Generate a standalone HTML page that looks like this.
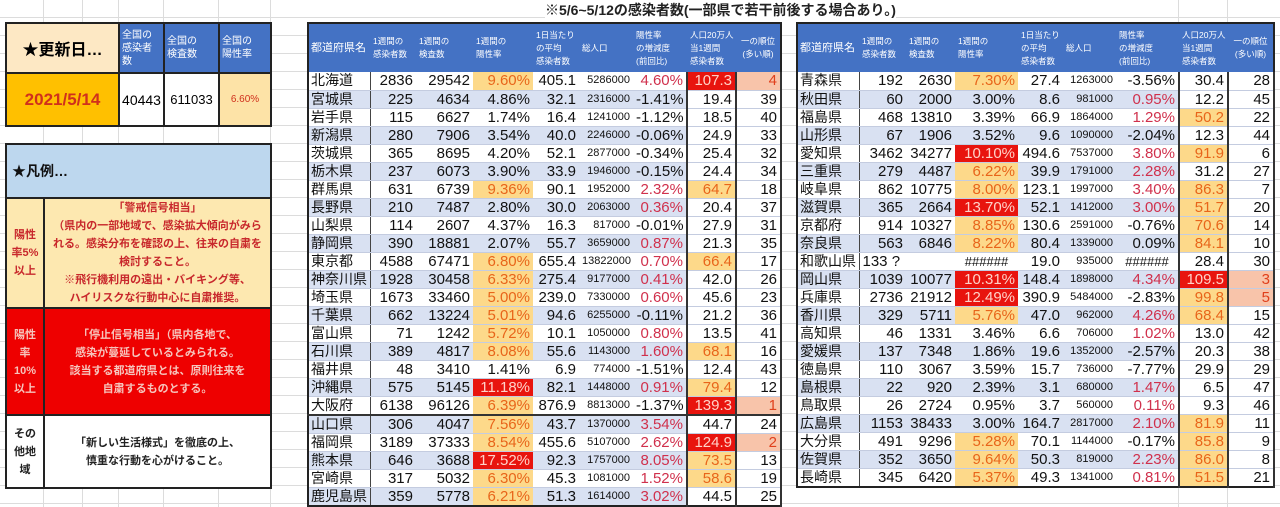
<!DOCTYPE html>
<html><head><meta charset="utf-8">
<style>
*{box-sizing:border-box;margin:0;padding:0}
body{width:1280px;height:507px;overflow:hidden;position:relative;background:#fff;font-family:"Liberation Sans","Noto Sans CJK JP",sans-serif;
background-image:repeating-linear-gradient(to bottom,transparent 0,transparent 17px,#dcdcdc 17px,#dcdcdc 18px);}
.vg{position:absolute;top:0;width:1px;height:507px;background:#dcdcdc}
.title{position:absolute;left:545px;top:0px;font-size:14px;font-weight:bold;color:#222;white-space:nowrap;background:#fff}
table{border-collapse:collapse;table-layout:fixed;position:absolute;background:#fff}
.t{top:22px;border:2px solid #222}
.t th{background:#4472c4;color:#fff;font-size:8.5px;font-weight:normal;text-align:left;height:49px;padding:0 3px;line-height:13px;vertical-align:middle;white-space:nowrap;overflow:hidden}
.t th.n{font-size:11px;padding:0 2px}
.t th.c{text-align:center}
.t td{height:18px;padding:0 3px;font-size:15px;text-align:right;border-bottom:1px solid #c4cce0;white-space:nowrap;overflow:hidden;color:#111;line-height:17px}
.t td.n{text-align:left;border-right:1px solid #444;font-size:14px;padding:0 2px}
.t td.pp{font-size:11px}
.t tr.b td{background:#d9e1f2}
.t tr td.w{background:#fff;border-left:2px solid #333}
.t tr td.w2{background:#fff;border-left:2px solid #333;border-right:2px solid #333}
.t tr td.y{background:#fdd98a;color:#e8651a}
.t tr td.r{background:#e8140e;color:#ffd2c8}
.t td.p{color:#d0304c}
.t tr td.hy{background:#fdd98a;color:#e8651a}
.t tr td.hr{background:#e8140e;color:#ffd2c8}
.t tr td.rk{background:#f8c4aa;color:#e0401c}
.t tr.sep td{border-top:2px solid #333}
.lp td{border:2px solid #222;text-align:center;vertical-align:middle}
.lg td{border:2px solid #222;text-align:center;vertical-align:middle;font-size:11px;font-weight:bold;line-height:18px}
</style></head><body>
<div class="vg" style="left:43px"></div><div class="vg" style="left:82px"></div><div class="vg" style="left:118px"></div><div class="vg" style="left:163px"></div><div class="vg" style="left:218px"></div><div class="vg" style="left:270px"></div><div class="vg" style="left:1178px"></div><div class="vg" style="left:1227px"></div>

<div class="title">※5/6~5/12の感染者数(一部県で若干前後する場合あり。)</div>

<table class="lp" style="left:5px;top:22px;width:265px">
<colgroup><col style="width:113px"><col style="width:45px"><col style="width:55px"><col style="width:52px"></colgroup>
<tr style="height:50px"><td style="background:#fde8c4;font-size:16px;font-weight:bold">★更新日…</td>
<td style="background:#4472c4;color:#fff;font-size:10px;text-align:left;line-height:13px;padding-left:2px">全国の<br>感染者<br>数</td>
<td style="background:#4472c4;color:#fff;font-size:10px;text-align:left;line-height:13px;padding-left:2px">全国の<br>検査数</td>
<td style="background:#4472c4;color:#fff;font-size:10px;text-align:left;line-height:13px;padding-left:2px">全国の<br>陽性率</td></tr>
<tr style="height:53px"><td style="background:#ffc000;color:#d0301c;font-size:17px;font-weight:bold">2021/5/14</td>
<td style="font-size:14px">40443</td><td style="font-size:13px">611033</td>
<td style="background:#fde3a7;color:#d0301c;font-size:10px">6.60%</td></tr>
</table>

<table class="lg" style="left:5px;top:143px;width:265px">
<colgroup><col style="width:38px"><col style="width:227px"></colgroup>
<tr style="height:54px"><td colspan="2" style="background:#bdd7ee;text-align:left;font-size:14px;padding-left:5px;color:#111">★凡例…</td></tr>
<tr style="height:108px;background:#fde8b0;color:#c8282c"><td style="font-size:11px">陽性<br>率5%<br>以上</td>
<td>「警戒信号相当」<br>（県内の一部地域で、感染拡大傾向がみら<br>れる。感染分布を確認の上、往来の自粛を<br>検討すること。<br>※飛行機利用の遠出・バイキング等、<br>ハイリスクな行動中心に自粛推奨。</td></tr>
<tr style="height:107px;background:#ee0000;color:#f6c4bc"><td>陽性<br>率<br>10%<br>以上</td>
<td>「停止信号相当」（県内各地で、<br>感染が蔓延しているとみられる。<br>該当する都道府県とは、原則往来を<br>自粛するものとする。</td></tr>
<tr style="height:73px;background:#fff;color:#222"><td>その<br>他地<br>域</td>
<td>「新しい生活様式」を徹底の上、<br>慎重な行動を心がけること。</td></tr>
</table>

<table class="t" style="left:307px;width:473px">
<colgroup><col style="width:62px"><col style="width:46px"><col style="width:57px"><col style="width:60px"><col style="width:46px"><col style="width:54px"><col style="width:54px"><col style="width:49px"><col style="width:45px"></colgroup>
<tr><th class="n">都道府県名</th><th>1週間の<br>感染者数</th><th>1週間の<br>検査数</th><th>1週間の<br>陽性率</th><th>1日当たり<br>の平均<br>感染者数</th><th>総人口</th><th>陽性率<br>の増減度<br>(前回比)</th><th>人口20万人<br>当1週間<br>感染者数</th><th class="c">一の順位<br>(多い順)</th></tr>
<tr><td class="n">北海道</td><td>2836</td><td>29542</td><td class="y">9.60%</td><td>405.1</td><td class="pp">5286000</td><td class="p">4.60%</td><td class="w hr">107.3</td><td class="w2 rk">4</td></tr>
<tr class="b"><td class="n">宮城県</td><td>225</td><td>4634</td><td>4.86%</td><td>32.1</td><td class="pp">2316000</td><td>-1.41%</td><td class="w">19.4</td><td class="w2">39</td></tr>
<tr><td class="n">岩手県</td><td>115</td><td>6627</td><td>1.74%</td><td>16.4</td><td class="pp">1241000</td><td>-1.12%</td><td class="w">18.5</td><td class="w2">40</td></tr>
<tr class="b"><td class="n">新潟県</td><td>280</td><td>7906</td><td>3.54%</td><td>40.0</td><td class="pp">2246000</td><td>-0.06%</td><td class="w">24.9</td><td class="w2">33</td></tr>
<tr><td class="n">茨城県</td><td>365</td><td>8695</td><td>4.20%</td><td>52.1</td><td class="pp">2877000</td><td>-0.34%</td><td class="w">25.4</td><td class="w2">32</td></tr>
<tr class="b"><td class="n">栃木県</td><td>237</td><td>6073</td><td>3.90%</td><td>33.9</td><td class="pp">1946000</td><td>-0.15%</td><td class="w">24.4</td><td class="w2">34</td></tr>
<tr><td class="n">群馬県</td><td>631</td><td>6739</td><td class="y">9.36%</td><td>90.1</td><td class="pp">1952000</td><td class="p">2.32%</td><td class="w hy">64.7</td><td class="w2">18</td></tr>
<tr class="b"><td class="n">長野県</td><td>210</td><td>7487</td><td>2.80%</td><td>30.0</td><td class="pp">2063000</td><td class="p">0.36%</td><td class="w">20.4</td><td class="w2">37</td></tr>
<tr><td class="n">山梨県</td><td>114</td><td>2607</td><td>4.37%</td><td>16.3</td><td class="pp">817000</td><td>-0.01%</td><td class="w">27.9</td><td class="w2">31</td></tr>
<tr class="b"><td class="n">静岡県</td><td>390</td><td>18881</td><td>2.07%</td><td>55.7</td><td class="pp">3659000</td><td class="p">0.87%</td><td class="w">21.3</td><td class="w2">35</td></tr>
<tr><td class="n">東京都</td><td>4588</td><td>67471</td><td class="y">6.80%</td><td>655.4</td><td class="pp">13822000</td><td class="p">0.70%</td><td class="w hy">66.4</td><td class="w2">17</td></tr>
<tr class="b"><td class="n">神奈川県</td><td>1928</td><td>30458</td><td class="y">6.33%</td><td>275.4</td><td class="pp">9177000</td><td class="p">0.41%</td><td class="w">42.0</td><td class="w2">26</td></tr>
<tr><td class="n">埼玉県</td><td>1673</td><td>33460</td><td class="y">5.00%</td><td>239.0</td><td class="pp">7330000</td><td class="p">0.60%</td><td class="w">45.6</td><td class="w2">23</td></tr>
<tr class="b"><td class="n">千葉県</td><td>662</td><td>13224</td><td class="y">5.01%</td><td>94.6</td><td class="pp">6255000</td><td>-0.11%</td><td class="w">21.2</td><td class="w2">36</td></tr>
<tr><td class="n">富山県</td><td>71</td><td>1242</td><td class="y">5.72%</td><td>10.1</td><td class="pp">1050000</td><td class="p">0.80%</td><td class="w">13.5</td><td class="w2">41</td></tr>
<tr class="b"><td class="n">石川県</td><td>389</td><td>4817</td><td class="y">8.08%</td><td>55.6</td><td class="pp">1143000</td><td class="p">1.60%</td><td class="w hy">68.1</td><td class="w2">16</td></tr>
<tr><td class="n">福井県</td><td>48</td><td>3410</td><td>1.41%</td><td>6.9</td><td class="pp">774000</td><td>-1.51%</td><td class="w">12.4</td><td class="w2">43</td></tr>
<tr class="b"><td class="n">沖縄県</td><td>575</td><td>5145</td><td class="r">11.18%</td><td>82.1</td><td class="pp">1448000</td><td class="p">0.91%</td><td class="w hy">79.4</td><td class="w2">12</td></tr>
<tr><td class="n">大阪府</td><td>6138</td><td>96126</td><td class="y">6.39%</td><td>876.9</td><td class="pp">8813000</td><td>-1.37%</td><td class="w hr">139.3</td><td class="w2 rk">1</td></tr>
<tr class="b sep"><td class="n">山口県</td><td>306</td><td>4047</td><td class="y">7.56%</td><td>43.7</td><td class="pp">1370000</td><td class="p">3.54%</td><td class="w">44.7</td><td class="w2">24</td></tr>
<tr><td class="n">福岡県</td><td>3189</td><td>37333</td><td class="y">8.54%</td><td>455.6</td><td class="pp">5107000</td><td class="p">2.62%</td><td class="w hr">124.9</td><td class="w2 rk">2</td></tr>
<tr class="b"><td class="n">熊本県</td><td>646</td><td>3688</td><td class="r">17.52%</td><td>92.3</td><td class="pp">1757000</td><td class="p">8.05%</td><td class="w hy">73.5</td><td class="w2">13</td></tr>
<tr><td class="n">宮崎県</td><td>317</td><td>5032</td><td class="y">6.30%</td><td>45.3</td><td class="pp">1081000</td><td class="p">1.52%</td><td class="w hy">58.6</td><td class="w2">19</td></tr>
<tr class="b"><td class="n">鹿児島県</td><td>359</td><td>5778</td><td class="y">6.21%</td><td>51.3</td><td class="pp">1614000</td><td class="p">3.02%</td><td class="w">44.5</td><td class="w2">25</td></tr>
</table>

<table class="t" style="left:796px;width:477px">
<colgroup><col style="width:62px"><col style="width:47px"><col style="width:49px"><col style="width:63px"><col style="width:45px"><col style="width:53px"><col style="width:63px"><col style="width:49px"><col style="width:46px"></colgroup>
<tr><th class="n">都道府県名</th><th>1週間の<br>感染者数</th><th>1週間の<br>検査数</th><th>1週間の<br>陽性率</th><th>1日当たり<br>の平均<br>感染者数</th><th>総人口</th><th>陽性率<br>の増減度<br>(前回比)</th><th>人口20万人<br>当1週間<br>感染者数</th><th class="c">一の順位<br>(多い順)</th></tr>
<tr><td class="n">青森県</td><td>192</td><td>2630</td><td class="y">7.30%</td><td>27.4</td><td class="pp">1263000</td><td>-3.56%</td><td class="w">30.4</td><td class="w2">28</td></tr>
<tr class="b"><td class="n">秋田県</td><td>60</td><td>2000</td><td>3.00%</td><td>8.6</td><td class="pp">981000</td><td class="p">0.95%</td><td class="w">12.2</td><td class="w2">45</td></tr>
<tr><td class="n">福島県</td><td>468</td><td>13810</td><td>3.39%</td><td>66.9</td><td class="pp">1864000</td><td class="p">1.29%</td><td class="w hy">50.2</td><td class="w2">22</td></tr>
<tr class="b"><td class="n">山形県</td><td>67</td><td>1906</td><td>3.52%</td><td>9.6</td><td class="pp">1090000</td><td>-2.04%</td><td class="w">12.3</td><td class="w2">44</td></tr>
<tr><td class="n">愛知県</td><td>3462</td><td>34277</td><td class="r">10.10%</td><td>494.6</td><td class="pp">7537000</td><td class="p">3.80%</td><td class="w hy">91.9</td><td class="w2">6</td></tr>
<tr class="b"><td class="n">三重県</td><td>279</td><td>4487</td><td class="y">6.22%</td><td>39.9</td><td class="pp">1791000</td><td class="p">2.28%</td><td class="w">31.2</td><td class="w2">27</td></tr>
<tr><td class="n">岐阜県</td><td>862</td><td>10775</td><td class="y">8.00%</td><td>123.1</td><td class="pp">1997000</td><td class="p">3.40%</td><td class="w hy">86.3</td><td class="w2">7</td></tr>
<tr class="b"><td class="n">滋賀県</td><td>365</td><td>2664</td><td class="r">13.70%</td><td>52.1</td><td class="pp">1412000</td><td class="p">3.00%</td><td class="w hy">51.7</td><td class="w2">20</td></tr>
<tr><td class="n">京都府</td><td>914</td><td>10327</td><td class="y">8.85%</td><td>130.6</td><td class="pp">2591000</td><td>-0.76%</td><td class="w hy">70.6</td><td class="w2">14</td></tr>
<tr class="b"><td class="n">奈良県</td><td>563</td><td>6846</td><td class="y">8.22%</td><td>80.4</td><td class="pp">1339000</td><td>0.09%</td><td class="w hy">84.1</td><td class="w2">10</td></tr>
<tr><td class="n">和歌山県</td><td style="text-align:left">133 ?</td><td></td><td style="text-align:center;font-size:13px">######</td><td>19.0</td><td class="pp">935000</td><td style="text-align:center;font-size:13px">######</td><td class="w">28.4</td><td class="w2">30</td></tr>
<tr class="b"><td class="n">岡山県</td><td>1039</td><td>10077</td><td class="r">10.31%</td><td>148.4</td><td class="pp">1898000</td><td class="p">4.34%</td><td class="w hr">109.5</td><td class="w2 rk">3</td></tr>
<tr><td class="n">兵庫県</td><td>2736</td><td>21912</td><td class="r">12.49%</td><td>390.9</td><td class="pp">5484000</td><td>-2.83%</td><td class="w hy">99.8</td><td class="w2 rk">5</td></tr>
<tr class="b"><td class="n">香川県</td><td>329</td><td>5711</td><td class="y">5.76%</td><td>47.0</td><td class="pp">962000</td><td class="p">4.26%</td><td class="w hy">68.4</td><td class="w2">15</td></tr>
<tr><td class="n">高知県</td><td>46</td><td>1331</td><td>3.46%</td><td>6.6</td><td class="pp">706000</td><td class="p">1.02%</td><td class="w">13.0</td><td class="w2">42</td></tr>
<tr class="b"><td class="n">愛媛県</td><td>137</td><td>7348</td><td>1.86%</td><td>19.6</td><td class="pp">1352000</td><td>-2.57%</td><td class="w">20.3</td><td class="w2">38</td></tr>
<tr><td class="n">徳島県</td><td>110</td><td>3067</td><td>3.59%</td><td>15.7</td><td class="pp">736000</td><td>-7.77%</td><td class="w">29.9</td><td class="w2">29</td></tr>
<tr class="b"><td class="n">島根県</td><td>22</td><td>920</td><td>2.39%</td><td>3.1</td><td class="pp">680000</td><td class="p">1.47%</td><td class="w">6.5</td><td class="w2">47</td></tr>
<tr><td class="n">鳥取県</td><td>26</td><td>2724</td><td>0.95%</td><td>3.7</td><td class="pp">560000</td><td class="p">0.11%</td><td class="w">9.3</td><td class="w2">46</td></tr>
<tr class="b"><td class="n">広島県</td><td>1153</td><td>38433</td><td>3.00%</td><td>164.7</td><td class="pp">2817000</td><td class="p">2.10%</td><td class="w hy">81.9</td><td class="w2">11</td></tr>
<tr><td class="n">大分県</td><td>491</td><td>9296</td><td class="y">5.28%</td><td>70.1</td><td class="pp">1144000</td><td>-0.17%</td><td class="w hy">85.8</td><td class="w2">9</td></tr>
<tr class="b"><td class="n">佐賀県</td><td>352</td><td>3650</td><td class="y">9.64%</td><td>50.3</td><td class="pp">819000</td><td class="p">2.23%</td><td class="w hy">86.0</td><td class="w2">8</td></tr>
<tr><td class="n">長崎県</td><td>345</td><td>6420</td><td class="y">5.37%</td><td>49.3</td><td class="pp">1341000</td><td class="p">0.81%</td><td class="w hy">51.5</td><td class="w2">21</td></tr>
</table>
</body></html>
